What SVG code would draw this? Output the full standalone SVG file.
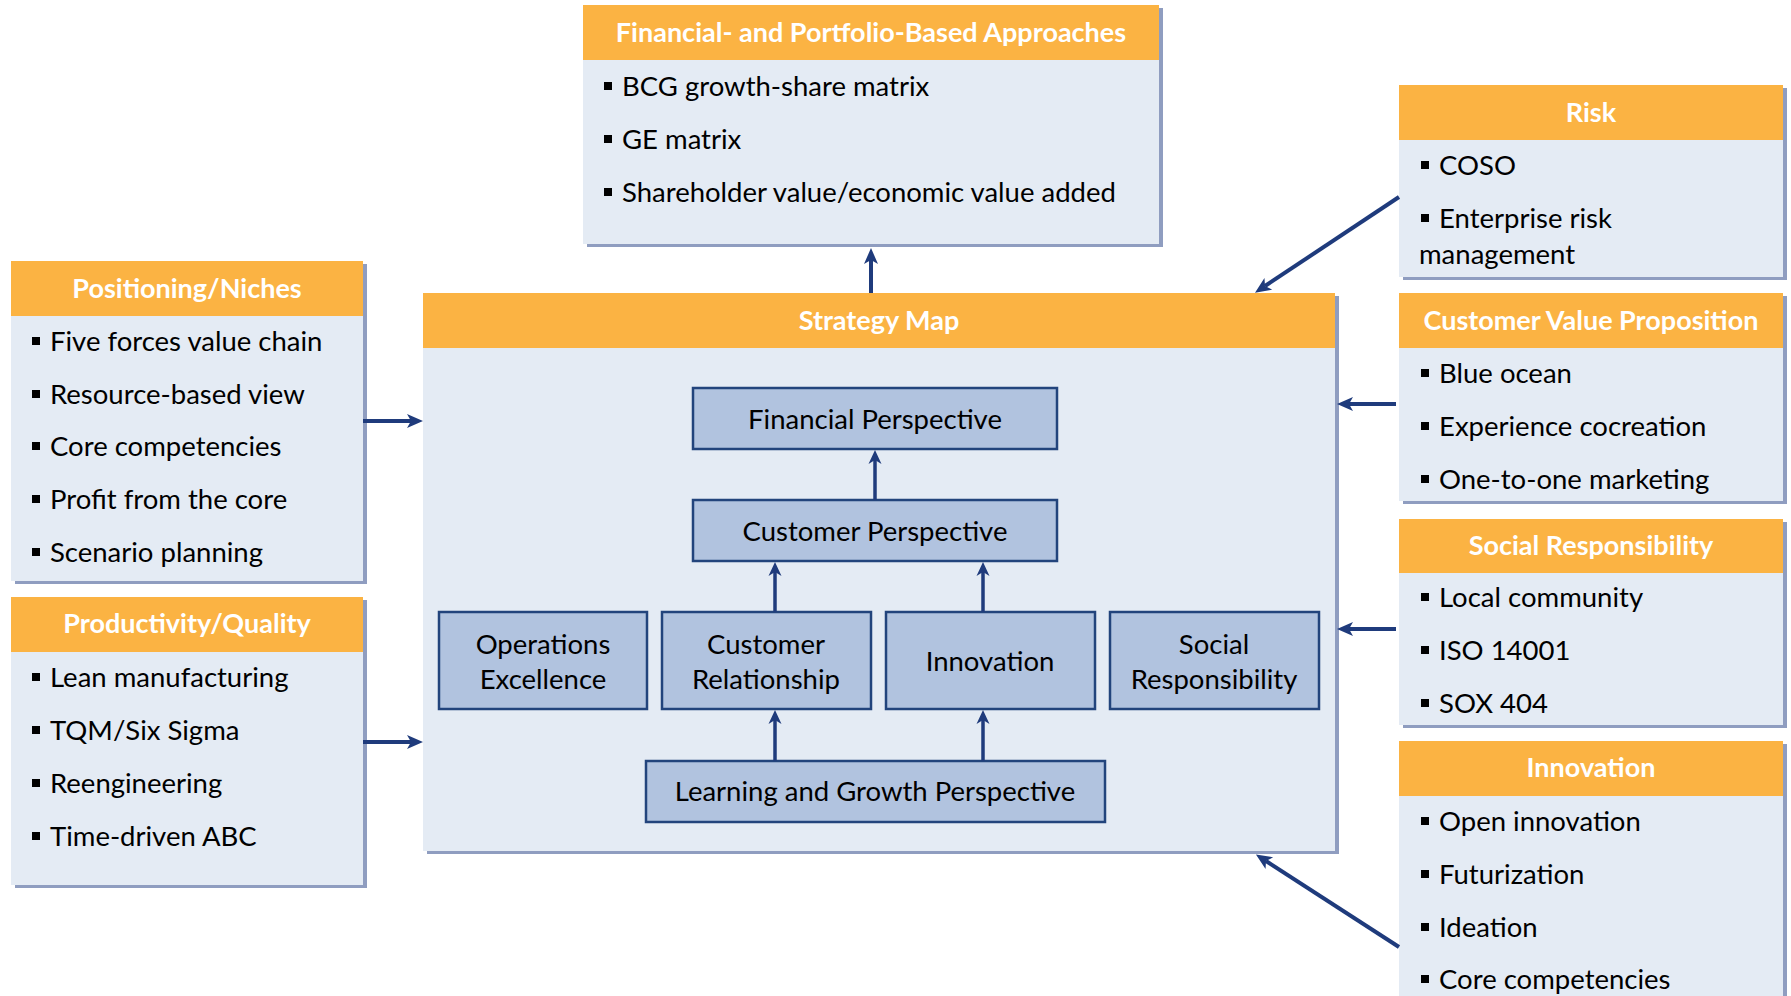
<svg xmlns="http://www.w3.org/2000/svg" width="1791" height="996" viewBox="0 0 1791 996">
<defs>
<style>
.bg{fill:#FFFFFF}
.box{fill:#E4EBF4}
.sh{fill:#8F9DC0}
.hdr{fill:#FBB343}
.ht{font-family:Lato,"Liberation Sans",sans-serif;font-weight:bold;font-size:27px;fill:#FFFFFF;text-anchor:middle}
.t{font-family:Lato,"Liberation Sans",sans-serif;font-size:27.5px;fill:#000000}
.bu{fill:#000000}
.ib{fill:#B1C3DF;stroke:#22447C;stroke-width:2.5}
.it{font-family:Lato,"Liberation Sans",sans-serif;font-size:27.5px;fill:#000000;text-anchor:middle}
.conn{stroke:#1F3B7C;stroke-width:4;fill:none;marker-end:url(#ah)}
.conn2{stroke:#1F3B7C;stroke-width:3.5;fill:none;marker-end:url(#ah2)}
</style>
<marker id="ah" markerUnits="userSpaceOnUse" markerWidth="20" markerHeight="16" refX="4" refY="7" orient="auto" overflow="visible">
<path d="M0,0 L16,7 L0,14 L4,7 Z" fill="#1F3B7C"/>
</marker>
<marker id="ah2" markerUnits="userSpaceOnUse" markerWidth="20" markerHeight="16" refX="4" refY="6.5" orient="auto" overflow="visible">
<path d="M0,0 L14,6.5 L0,13 L4,6.5 Z" fill="#1F3B7C"/>
</marker>
</defs>
<rect class="bg" x="0" y="0" width="1791" height="996"/>

<g id="financial-approaches">
<rect class="sh" x="587" y="8" width="576" height="239"/>
<rect class="box" x="583" y="5" width="576" height="239"/>
<rect class="hdr" x="583" y="5" width="576" height="55"/>
<text class="ht" x="871" y="42">Financial- and Portfolio-Based Approaches</text>
<rect class="bu" x="604" y="82" width="8" height="8"/><text class="t" x="622" y="96">BCG growth-share matrix</text>
<rect class="bu" x="604" y="135" width="8" height="8"/><text class="t" x="622" y="149">GE matrix</text>
<rect class="bu" x="604" y="188" width="8" height="8"/><text class="t" x="622" y="202">Shareholder value/economic value added</text>
</g>

<g id="positioning">
<rect class="sh" x="15" y="264" width="352" height="320"/>
<rect class="box" x="11" y="261" width="352" height="320"/>
<rect class="hdr" x="11" y="261" width="352" height="55"/>
<text class="ht" x="187" y="298">Positioning/Niches</text>
<rect class="bu" x="32" y="337" width="8" height="8"/><text class="t" x="50" y="351">Five forces value chain</text>
<rect class="bu" x="32" y="390" width="8" height="8"/><text class="t" x="50" y="404">Resource-based view</text>
<rect class="bu" x="32" y="442" width="8" height="8"/><text class="t" x="50" y="456">Core competencies</text>
<rect class="bu" x="32" y="495" width="8" height="8"/><text class="t" x="50" y="509">Profit from the core</text>
<rect class="bu" x="32" y="548" width="8" height="8"/><text class="t" x="50" y="562">Scenario planning</text>
</g>

<g id="productivity">
<rect class="sh" x="15" y="600" width="352" height="288"/>
<rect class="box" x="11" y="597" width="352" height="288"/>
<rect class="hdr" x="11" y="597" width="352" height="55"/>
<text class="ht" x="187" y="633">Productivity/Quality</text>
<rect class="bu" x="32" y="673" width="8" height="8"/><text class="t" x="50" y="687">Lean manufacturing</text>
<rect class="bu" x="32" y="726" width="8" height="8"/><text class="t" x="50" y="740">TQM/Six Sigma</text>
<rect class="bu" x="32" y="779" width="8" height="8"/><text class="t" x="50" y="793">Reengineering</text>
<rect class="bu" x="32" y="832" width="8" height="8"/><text class="t" x="50" y="846">Time-driven ABC</text>
</g>

<g id="risk">
<rect class="sh" x="1403" y="88" width="384" height="192"/>
<rect class="box" x="1399" y="85" width="384" height="192"/>
<rect class="hdr" x="1399" y="85" width="384" height="55"/>
<text class="ht" x="1591" y="122">Risk</text>
<rect class="bu" x="1421" y="161" width="8" height="8"/><text class="t" x="1439" y="175">COSO</text>
<rect class="bu" x="1421" y="214" width="8" height="8"/><text class="t" x="1439" y="228">Enterprise risk</text>
<text class="t" x="1419" y="264">management</text>
</g>

<g id="customer-value">
<rect class="sh" x="1403" y="296" width="384" height="208"/>
<rect class="box" x="1399" y="293" width="384" height="208"/>
<rect class="hdr" x="1399" y="293" width="384" height="55"/>
<text class="ht" x="1591" y="330">Customer Value Proposition</text>
<rect class="bu" x="1421" y="369" width="8" height="8"/><text class="t" x="1439" y="383">Blue ocean</text>
<rect class="bu" x="1421" y="422" width="8" height="8"/><text class="t" x="1439" y="436">Experience cocreation</text>
<rect class="bu" x="1421" y="475" width="8" height="8"/><text class="t" x="1439" y="489">One-to-one marketing</text>
</g>

<g id="social-responsibility">
<rect class="sh" x="1403" y="522" width="384" height="206"/>
<rect class="box" x="1399" y="519" width="384" height="206"/>
<rect class="hdr" x="1399" y="519" width="384" height="54"/>
<text class="ht" x="1591" y="555">Social Responsibility</text>
<rect class="bu" x="1421" y="593" width="8" height="8"/><text class="t" x="1439" y="607">Local community</text>
<rect class="bu" x="1421" y="646" width="8" height="8"/><text class="t" x="1439" y="660">ISO 14001</text>
<rect class="bu" x="1421" y="699" width="8" height="8"/><text class="t" x="1439" y="713">SOX 404</text>
</g>

<g id="innovation-approaches">
<rect class="sh" x="1403" y="744" width="384" height="280"/>
<rect class="box" x="1399" y="741" width="384" height="280"/>
<rect class="hdr" x="1399" y="741" width="384" height="55"/>
<text class="ht" x="1591" y="777">Innovation</text>
<rect class="bu" x="1421" y="817" width="8" height="8"/><text class="t" x="1439" y="831">Open innovation</text>
<rect class="bu" x="1421" y="870" width="8" height="8"/><text class="t" x="1439" y="884">Futurization</text>
<rect class="bu" x="1421" y="923" width="8" height="8"/><text class="t" x="1439" y="937">Ideation</text>
<rect class="bu" x="1421" y="975" width="8" height="8"/><text class="t" x="1439" y="989">Core competencies</text>
</g>

<g id="strategy-map">
<rect class="sh" x="427" y="296" width="912" height="558"/>
<rect class="box" x="423" y="293" width="912" height="558"/>
<rect class="hdr" x="423" y="293" width="912" height="55"/>
<text class="ht" x="879" y="330">Strategy Map</text>
</g>

<g id="financial-perspective">
<rect class="ib" x="693" y="388" width="364" height="61"/>
<text class="it" x="875" y="429">Financial Perspective</text>
</g>
<g id="customer-perspective">
<rect class="ib" x="693" y="500" width="364" height="61"/>
<text class="it" x="875" y="541">Customer Perspective</text>
</g>
<g id="operations-excellence">
<rect class="ib" x="439" y="612" width="208" height="97"/>
<text class="it" x="543" y="654">Operations</text>
<text class="it" x="543" y="689">Excellence</text>
</g>
<g id="customer-relationship">
<rect class="ib" x="662" y="612" width="209" height="97"/>
<text class="it" x="766" y="654">Customer</text>
<text class="it" x="766" y="689">Relationship</text>
</g>
<g id="innovation-theme">
<rect class="ib" x="886" y="612" width="209" height="97"/>
<text class="it" x="990" y="671">Innovation</text>
</g>
<g id="social-theme">
<rect class="ib" x="1110" y="612" width="209" height="97"/>
<text class="it" x="1214" y="654">Social</text>
<text class="it" x="1214" y="689">Responsibility</text>
</g>
<g id="learning-growth">
<rect class="ib" x="646" y="761" width="459" height="61"/>
<text class="it" x="875" y="801">Learning and Growth Perspective</text>
</g>

<g id="connectors">
<line class="conn" x1="871" y1="293" x2="871" y2="260"/>
<line class="conn" x1="363" y1="421" x2="411" y2="421"/>
<line class="conn" x1="363" y1="742" x2="411" y2="742"/>
<line class="conn" x1="1396" y1="404" x2="1349" y2="404"/>
<line class="conn" x1="1396" y1="629" x2="1349" y2="629"/>
<line class="conn" x1="1399" y1="197" x2="1265" y2="286"/>
<line class="conn" x1="1399" y1="947" x2="1266" y2="861"/>
<line class="conn2" x1="875" y1="500" x2="875" y2="460"/>
<line class="conn2" x1="775" y1="612" x2="775" y2="572"/>
<line class="conn2" x1="983" y1="612" x2="983" y2="572"/>
<line class="conn2" x1="775" y1="761" x2="775" y2="720"/>
<line class="conn2" x1="983" y1="761" x2="983" y2="720"/>
</g>
</svg>
